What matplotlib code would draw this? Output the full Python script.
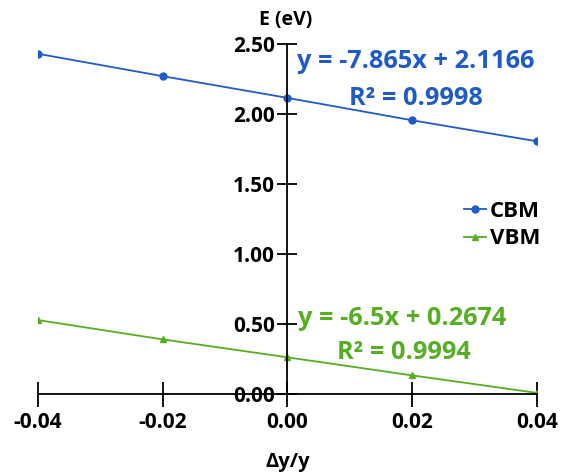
import matplotlib
matplotlib.use("Agg")
import matplotlib.pyplot as plt

plt.rcParams['font.family'] = ['Open Sans', 'DejaVu Sans']
plt.rcParams['font.weight'] = 'bold'

strain = [-0.04, -0.02, 0.00, 0.02, 0.04]
cbm = [2.43, 2.27, 2.115, 1.955, 1.805]
vbm = [0.528, 0.39, 0.262, 0.133, 0.008]
y_ticks = [0.0, 0.5, 1.0, 1.5, 2.0, 2.5]

blue = "#1F5BC8"
green = "#56AE22"

fig = plt.figure(figsize=(5.65, 4.73), dpi=100)
ax = fig.add_axes([0.0673, 0.167, 0.883, 0.74])

ax.plot(strain, cbm, color=blue, marker='o', markersize=5, lw=1.3, label="CBM")
ax.plot(strain, vbm, color=green, marker='^', markersize=5, lw=1.3, label="VBM")

ax.set_xlim(-0.04, 0.04)
ax.set_ylim(0, 2.5)
ax.set_xticks(strain)
ax.set_xticklabels([f"{v:.2f}" for v in strain])
ax.set_yticks(y_ticks)
ax.set_yticklabels([f"{v:.2f}" for v in y_ticks])

for s in ['top', 'right']:
    ax.spines[s].set_visible(False)
ax.spines['left'].set_position(('data', 0))
ax.spines['bottom'].set_position(('data', 0))
ax.spines['left'].set_linewidth(1.3)
ax.spines['bottom'].set_linewidth(1.3)
ax.tick_params(axis='x', direction='inout', length=18, width=1.3, pad=4, labelsize=15)
ax.tick_params(axis='y', direction='inout', length=14, width=1.3, pad=2, labelsize=15)
for lbl in ax.get_xticklabels() + ax.get_yticklabels():
    lbl.set_fontweight('bold')

ax.text(0.497, 1.04, "E (eV)", transform=ax.transAxes, fontsize=14, fontweight='bold',
        ha='center', va='bottom')
ax.set_xlabel("Δy/y", fontsize=14.5, fontweight='bold')
ax.xaxis.set_label_coords(0.5, -0.165)

# regression equations
ax.text(0.7575, 0.949, "y = -7.865x + 2.1166", transform=ax.transAxes, color=blue,
        fontsize=18.3, fontweight='bold', ha='center', va='center')
ax.text(0.7575, 0.843, "R² = 0.9998", transform=ax.transAxes, color=blue,
        fontsize=18.3, fontweight='bold', ha='center', va='center')
ax.text(0.7305, 0.217, "y = -6.5x + 0.2674", transform=ax.transAxes, color=green,
        fontsize=18.3, fontweight='bold', ha='center', va='center')
ax.text(0.7325, 0.12, "R² = 0.9994", transform=ax.transAxes, color=green,
        fontsize=18.3, fontweight='bold', ha='center', va='center')

ax.legend(loc='center left', bbox_to_anchor=(0.832, 0.483), frameon=False,
          borderpad=0, handlelength=1.0, handletextpad=0.15, labelspacing=0.3,
          prop={'weight': 'bold', 'size': 16})

fig.savefig("out.png", dpi=100)
